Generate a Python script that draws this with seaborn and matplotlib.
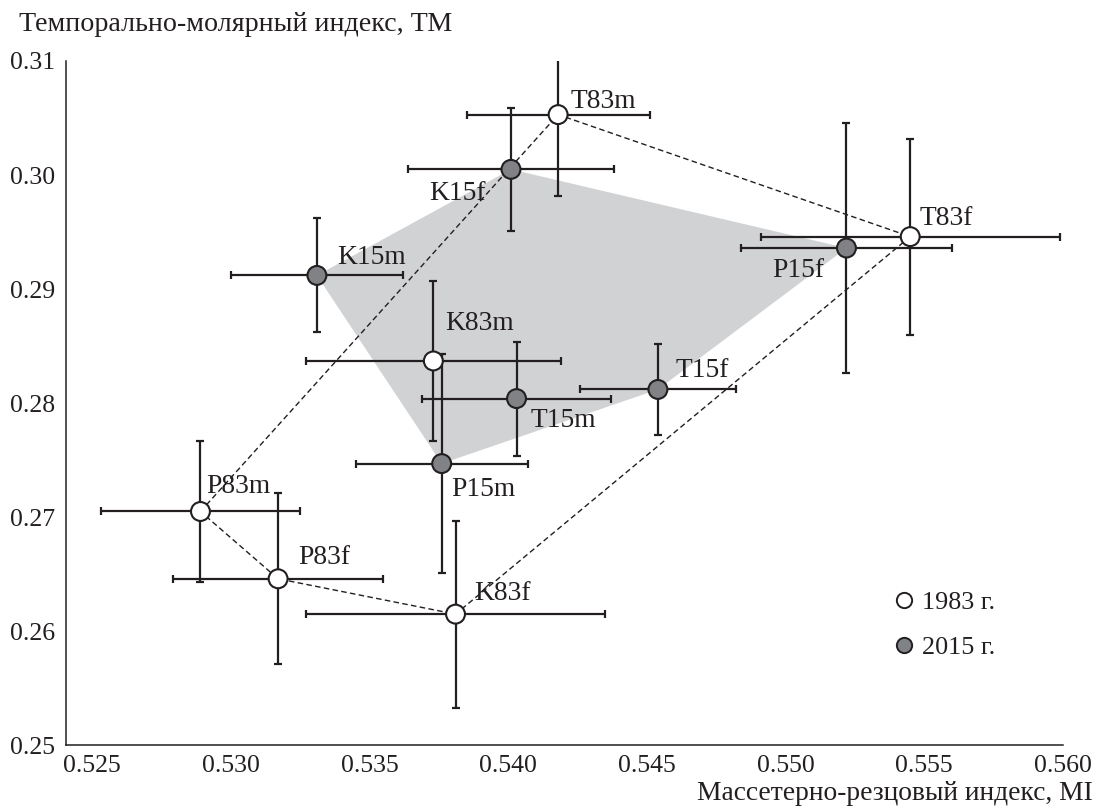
import matplotlib
matplotlib.use("Agg")
import matplotlib.pyplot as plt
from matplotlib.lines import Line2D
import seaborn as sns
import pandas as pd

# ---- data ----
labels = ['T83m', 'T83f', 'K83m', 'K83f', 'P83m', 'P83f',
          'T15m', 'T15f', 'K15m', 'K15f', 'P15m', 'P15f']
years = ['1983 г.'] * 6 + ['2015 г.'] * 6
mi = [0.5418, 0.5545, 0.5373, 0.5381, 0.5289, 0.5317,
      0.5403, 0.5454, 0.5331, 0.5401, 0.5376, 0.5522]
tm = [0.3053, 0.2946, 0.2837, 0.2615, 0.2705, 0.2646,
      0.2804, 0.2812, 0.2912, 0.3005, 0.2747, 0.2936]
mi_err = [0.0033, 0.0054, 0.0046, 0.0054, 0.0036, 0.0038,
          0.0034, 0.0028, 0.0031, 0.0037, 0.0031, 0.0038]
tm_err = [0.0071, 0.0086, 0.0070, 0.0082, 0.0062, 0.0075,
          0.0050, 0.0040, 0.0050, 0.0054, 0.0096, 0.0110]
outline_1983 = ['P83m', 'T83m', 'T83f', 'K83f', 'P83f', 'P83m']
hull_2015 = ['K15m', 'K15f', 'P15f', 'T15f', 'P15m']
x_ticks = [0.525, 0.530, 0.535, 0.540, 0.545, 0.550, 0.555, 0.560]
y_ticks = [0.25, 0.26, 0.27, 0.28, 0.29, 0.30, 0.31]
x_title = 'Массетерно-резцовый индекс, MI'
y_title = 'Темпорально-молярный индекс, ТМ'

df = pd.DataFrame({'label': labels, 'year': years, 'MI': mi, 'TM': tm,
                   'MI_err': mi_err, 'TM_err': tm_err}).set_index('label', drop=False)

# ---- style ----
sns.set_style('white')
plt.rcParams['font.family'] = ['Liberation Serif', 'DejaVu Serif']
INK = '#231f20'
FS_TICK = 18.5
FS_LAB = 19.8
FS_TITLE = 20.2
FS_XTITLE = 19.8
FS_LEG = 18.8

fig = plt.figure(figsize=(10.94, 8.07), dpi=100)
ax = fig.add_axes([66 / 1094, 1 - 745.3 / 807, (1062.7 - 66) / 1094, (745.3 - 61) / 807])

# gray hull of 2015 samples
hull = df.loc[hull_2015]
ax.fill(hull['MI'], hull['TM'], color='#d1d2d4', lw=0, zorder=1)

# dashed outline of 1983 samples
outl = df.loc[outline_1983]
ax.plot(outl['MI'], outl['TM'], color=INK, lw=1.0, ls=(0, (4.0, 2.4)), zorder=2)

# error bars
ax.errorbar(df['MI'], df['TM'], xerr=df['MI_err'], yerr=df['TM_err'], fmt='none',
            ecolor=INK, elinewidth=1.6, capsize=3.2, capthick=1.6, zorder=3)

# points
palette = {'1983 г.': 'white', '2015 г.': '#808285'}
sns.scatterplot(data=df, x='MI', y='TM', hue='year', palette=palette, s=185,
                edgecolor=INK, linewidth=1.5, ax=ax, zorder=4, legend=False)

# point labels (offsets in pixels)
offsets = {'T83m': (12, 13, 'left'), 'T83f': (9, 18, 'left'), 'K83m': (12, 37, 'left'),
           'K83f': (19, 21, 'left'), 'P83m': (6, 25, 'left'), 'P83f': (20, 21, 'left'),
           'T15m': (14, -22, 'left'), 'T15f': (18, 19, 'left'), 'K15m': (20, 18, 'left'),
           'K15f': (-25, -24, 'right'), 'P15m': (10, -26, 'left'), 'P15f': (-22, -22, 'right')}
for lab, x, y in zip(df['label'], df['MI'], df['TM']):
    dx, dy, ha = offsets[lab]
    ax.annotate(lab, (x, y), xytext=(dx, dy), textcoords='offset pixels',
                ha=ha, va='center', fontsize=FS_LAB, color=INK, zorder=5)

# axes
ax.set_xlim(0.52405, 0.560)
ax.set_ylim(0.25, 0.31)
ax.set_xticks(x_ticks)
ax.set_yticks(y_ticks)
ax.set_xticklabels([f'{v:.3f}' for v in x_ticks])
ax.set_yticklabels([f'{v:.2f}' for v in y_ticks])
ax.tick_params(direction='in', length=5.8, width=1.1, color=INK, labelcolor=INK,
               labelsize=FS_TICK)
ax.tick_params(axis='x', pad=7)
ax.tick_params(axis='y', pad=8)
for side in ['top', 'right']:
    ax.spines[side].set_visible(False)
for side in ['left', 'bottom']:
    ax.spines[side].set_color(INK)
    ax.spines[side].set_linewidth(1.1)
ax.patch.set_alpha(0)

ax.set_xlabel(x_title, fontsize=FS_XTITLE, color=INK, ha='right', va='center')
ax.xaxis.set_label_coords((1093 - 66) / 996.7, -(793 - 745.3) / 684.3)
ax.set_ylabel(y_title, fontsize=FS_TITLE, color=INK, rotation=0, ha='left', va='center')
ax.yaxis.set_label_coords((19 - 66) / 996.7, (745.3 - 25) / 684.3)

# legend
handles = [Line2D([], [], ls='none', marker='o', markersize=11, markerfacecolor=palette[k],
                  markeredgecolor=INK, markeredgewidth=1.4, label=k)
           for k in ['1983 г.', '2015 г.']]
ax.legend(handles=handles, loc='center left',
          bbox_to_anchor=((891 - 66) / 996.7, (745.3 - 625) / 684.3),
          frameon=False, fontsize=FS_LEG, handletextpad=0.2, labelspacing=0.85,
          borderpad=0, borderaxespad=0, handlelength=1.0, labelcolor=INK)

fig.savefig('out.png', dpi=100)
